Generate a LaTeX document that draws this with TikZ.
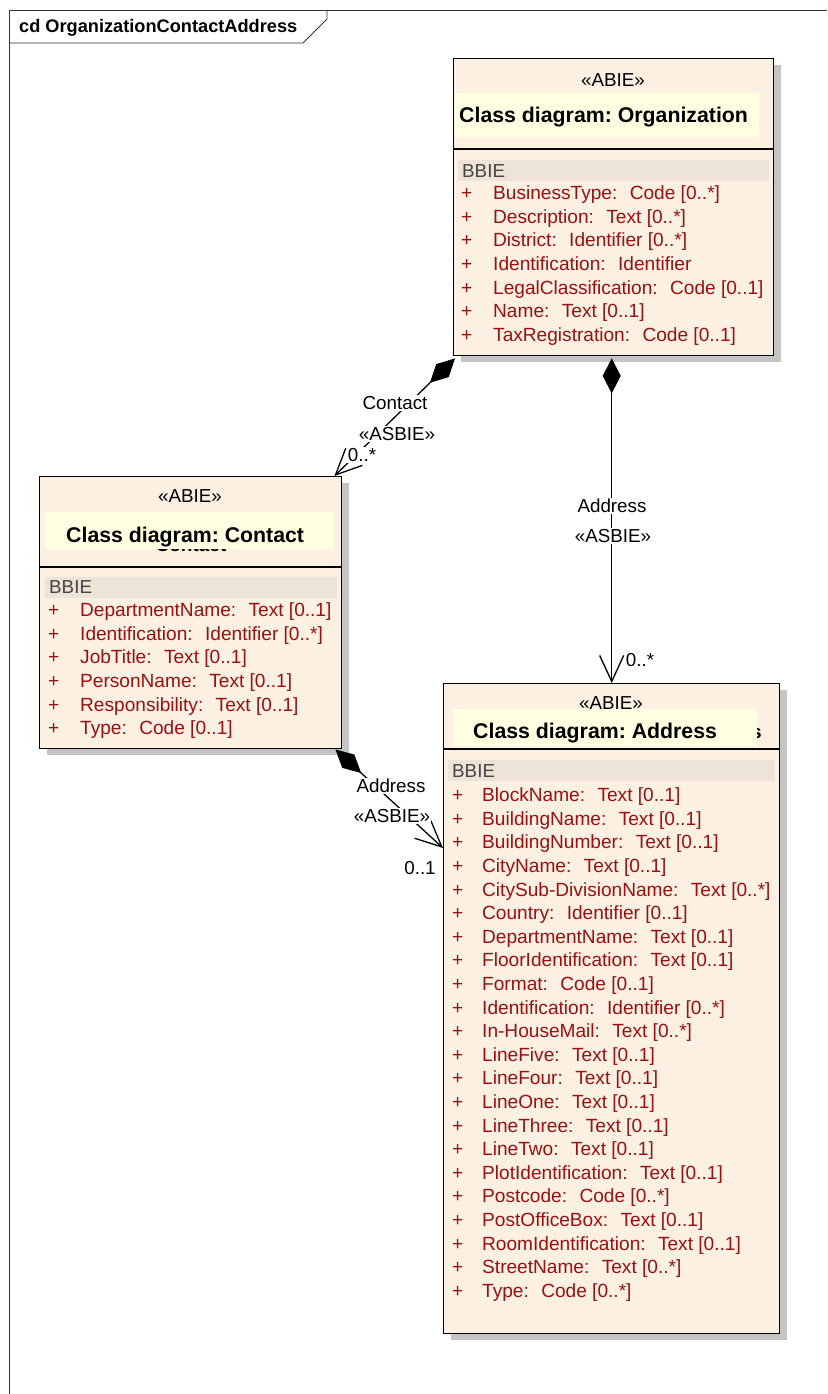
\documentclass[tikz,border=0pt]{standalone}
\usepackage{fontspec}
\setmainfont{Liberation Sans}
\usetikzlibrary{arrows.meta,shadows,calc}
\definecolor{classfill}{HTML}{FBF0E2}
\definecolor{bandfill}{HTML}{EDE4D7}
\definecolor{notefill}{HTML}{FFFFE2}
\definecolor{attrred}{HTML}{9A1010}
\definecolor{bbiegray}{HTML}{454545}
\definecolor{shadowgray}{HTML}{C4C4C4}
% attribute rows: #1 prefix, #2 x of "+", #3 gap to name, #4 first row centre, #5 list name/type
\newcommand\umlattrs[5]{%
  \foreach \n/\v [count=\i from 0] in {#5} {
    \node[attr] (#1-p\i) at ({#2},{#4+\i*23.6+6.7}) {+};
    \node[attr] (#1-a\i) at ({#2+#3},{#4+\i*23.6+6.7}) {\n:~ \v};
  }}
\begin{document}
\begin{tikzpicture}[x=1pt,y=-1pt,
  base/.style={font=\fontsize{18.8}{22}\selectfont},
  classbox/.style={draw=black, line width=1.4pt, fill=classfill, anchor=north west,
    inner sep=0pt, drop shadow={shadow xshift=7pt, shadow yshift=-6pt, fill=shadowgray, opacity=1}},
  stereo/.style={base, anchor=base, inner sep=0pt},
  title/.style={font=\bfseries\fontsize{21.3}{24}\selectfont\frenchspacing, anchor=base west, inner sep=0pt},
  bbie/.style={base, text=bbiegray, anchor=base west, inner sep=0pt},
  attr/.style={font=\fontsize{19.1}{22}\selectfont, text=attrred, anchor=base west, inner sep=0pt},
  note/.style={fill=notefill},
  band/.style={fill=bandfill},
  conn/.style={line width=1.3pt, draw=black},
  comp/.style={conn, {Diamond[length=35pt,width=18pt]}-{Straight Barb[length=26pt,width=24pt,line width=1.3pt]}},
  lbl/.style={base, fill=white, inner sep=1pt},
]
\useasboundingbox (0,0) rectangle (827,1394);

% diagram frame and its tab
\draw[line width=0.8pt, draw=black!80] (9,1394) -- (9,10) -- (827,10);
\draw[line width=0.8pt, draw=black!80] (9,43) -- (303,43) -- (327,19) -- (327,10);
\node[font=\bfseries\fontsize{18.2}{22}\selectfont, anchor=base west, inner sep=0pt] (frametitle) at (19,32.5) {cd OrganizationContactAddress};

% ---------- Organization ----------
\node[classbox, minimum width=320pt, minimum height=297pt] (org) at (453,58) {};
\node[stereo] (org-st) at (613,86.7) {«ABIE»};
\fill[note] (455,93) rectangle (759,137);
\node[title] (org-title) at (459,122.6) {Class diagram: Organization};
\draw[line width=1.3pt] (453,149) -- (773,149);
\fill[band] (458,160) rectangle (769,181);
\node[bbie] (org-bbie) at (462,177.7) {BBIE};
\umlattrs{org}{461}{32}{193}{BusinessType/{Code [0..*]}, Description/{Text [0..*]}, District/{Identifier [0..*]}, Identification/{Identifier}, LegalClassification/{Code [0..1]}, Name/{Text [0..1]}, TaxRegistration/{Code [0..1]}}

% ---------- Contact ----------
\node[classbox, minimum width=302pt, minimum height=272pt] (contact) at (39,476) {};
\node[stereo] (contact-st) at (190,502.7) {«ABIE»};
\node[font=\bfseries\fontsize{19}{22}\selectfont, anchor=base, inner sep=0pt] (contact-name) at (191,551) {Contact};
\fill[note] (45,512) rectangle (333,549);
\node[title] (contact-title) at (66,542.6) {Class diagram: Contact};
\draw[line width=1.3pt] (39,567) -- (341,567);
\fill[band] (45,577) rectangle (337,598);
\node[bbie] (contact-bbie) at (49,593.7) {BBIE};
\umlattrs{contact}{48}{32}{610}{DepartmentName/{Text [0..1]}, Identification/{Identifier [0..*]}, JobTitle/{Text [0..1]}, PersonName/{Text [0..1]}, Responsibility/{Text [0..1]}, Type/{Code [0..1]}}

% ---------- Address ----------
\node[classbox, minimum width=336pt, minimum height=650pt] (addr) at (443,683) {};
\node[stereo] (addr-st) at (611,709.7) {«ABIE»};
\node[font=\bfseries\fontsize{19}{22}\selectfont, anchor=base east, inner sep=0pt] (addr-name) at (762,738) {Address};
\fill[note] (453,709) rectangle (757,746);
\node[title] (addr-title) at (473,738.6) {Class diagram: Address};
\draw[line width=1.3pt] (443,749) -- (779,749);
\fill[band] (448,760) rectangle (775,781);
\node[bbie] (addr-bbie) at (452,777.7) {BBIE};
\umlattrs{addr}{452}{30}{795}{BlockName/{Text [0..1]}, BuildingName/{Text [0..1]}, BuildingNumber/{Text [0..1]}, CityName/{Text [0..1]}, CitySub-DivisionName/{Text [0..*]}, Country/{Identifier [0..1]}, DepartmentName/{Text [0..1]}, FloorIdentification/{Text [0..1]}, Format/{Code [0..1]}, Identification/{Identifier [0..*]}, In-HouseMail/{Text [0..*]}, LineFive/{Text [0..1]}, LineFour/{Text [0..1]}, LineOne/{Text [0..1]}, LineThree/{Text [0..1]}, LineTwo/{Text [0..1]}, PlotIdentification/{Text [0..1]}, Postcode/{Code [0..*]}, PostOfficeBox/{Text [0..1]}, RoomIdentification/{Text [0..1]}, StreetName/{Text [0..*]}, Type/{Code [0..*]}}

% ---------- associations ----------
\draw[comp] ($(org.south west)+(2,2)$) -- ($(contact.north east)+(-8,0)$);
\draw[comp] ($(org.south)+(-2,2)$) -- (addr.north);
\draw[comp] ($(contact.south east)+(-7,0)$) -- ($(addr.north west)+(0,165)$);

\node[lbl] (l1a) at (395,403) {Contact};
\node[lbl] (l1b) at (397,434) {«ASBIE»};
\node[lbl] (l1c) at (362,455) {0..*};

\node[lbl] (l2a) at (612,506) {Address};
\node[lbl] (l2b) at (613,536) {«ASBIE»};
\node[lbl] (l2c) at (640,660) {0..*};

\node[lbl] (l3a) at (391,786) {Address};
\node[lbl] (l3b) at (392,816) {«ASBIE»};
\node[lbl] (l3c) at (420,868) {0..1};
\end{tikzpicture}
\end{document}
